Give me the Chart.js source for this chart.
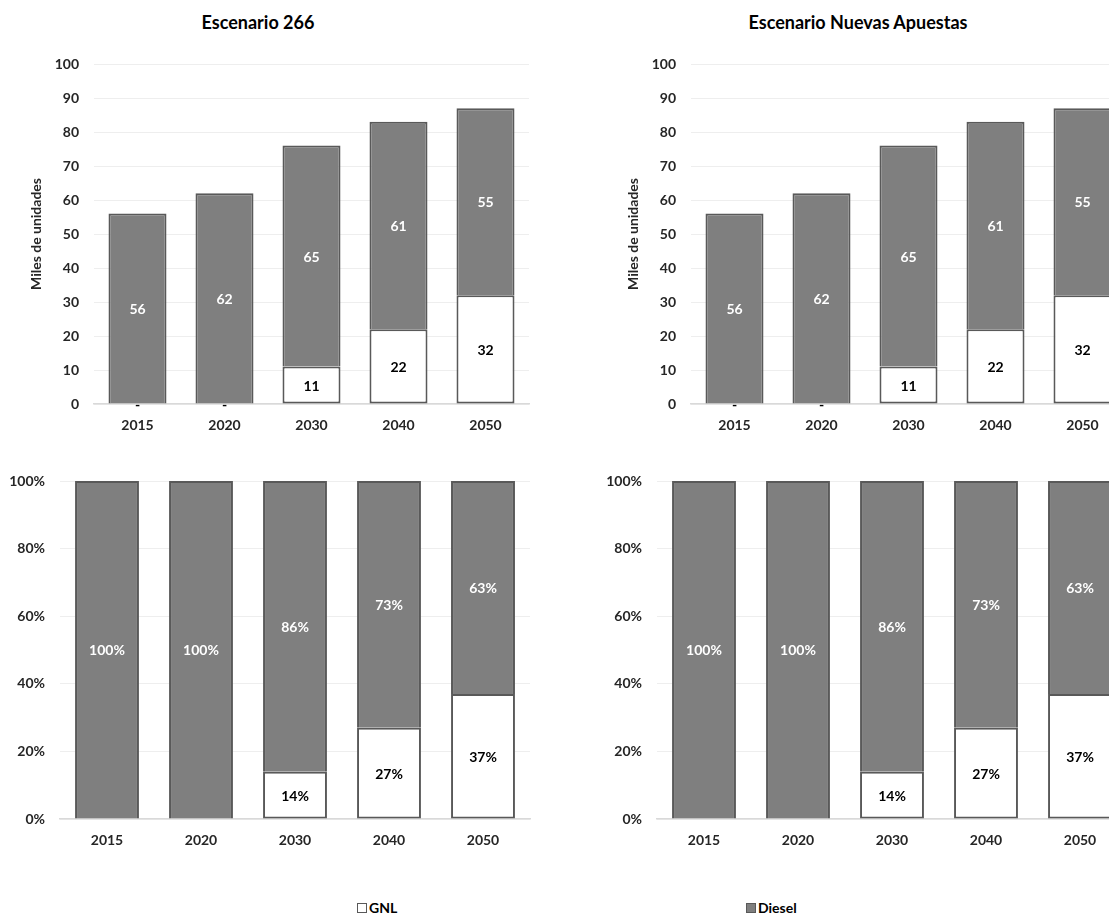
<!DOCTYPE html>
<html>
<head>
<meta charset="utf-8">
<title>Escenarios GNL / Diesel</title>
<script src="https://cdn.jsdelivr.net/npm/chart.js@4.4.1/dist/chart.umd.min.js"></script>
<style>
    html, body { margin: 0; padding: 0; background: #fff; }
    body { position: relative; width: 1109px; height: 917px; overflow: hidden; font-family: Lato, 'Open Sans', sans-serif; color: #000; }
    .panel { position: absolute; }
    .chart-title { position: absolute; top: 11px; width: 300px; text-align: center; font-weight: bold; font-size: 18px; }
    .legend-item { position: absolute; top: 899px; display: flex; align-items: center; font-weight: bold; font-size: 14px; }
    .swatch { width: 8px; height: 8px; border: 1.5px solid #595959; margin-right: 2px; }
</style>
</head>
<body>

<div class="chart-title" style="left:108px">Escenario 266</div>
<div class="chart-title" style="left:708px">Escenario Nuevas Apuestas</div>

<div class="panel" style="left:0;top:0"><canvas id="abs266" width="540" height="445"></canvas></div>
<div class="panel" style="left:597px;top:0"><canvas id="absNA" width="540" height="445"></canvas></div>
<div class="panel" style="left:0;top:445px"><canvas id="pct266" width="540" height="420"></canvas></div>
<div class="panel" style="left:597px;top:445px"><canvas id="pctNA" width="540" height="420"></canvas></div>

<div class="legend-item" style="left:357px"><span class="swatch" style="background:#fff"></span>GNL</div>
<div class="legend-item" style="left:746px"><span class="swatch" style="background:#7f7f7f"></span>Diesel</div>

<script>
// datos (miles de unidades)
const years = ['2015', '2020', '2030', '2040', '2050'];

const gnl266 = [0, 0, 11, 22, 32];
const diesel266 = [56, 62, 65, 61, 55];
const gnlNA = [0, 0, 11, 22, 32];
const dieselNA = [56, 62, 65, 61, 55];

// participación (%)
const gnlPct266 = [0, 0, 14, 27, 37];
const dieselPct266 = [100, 100, 86, 73, 63];
const gnlPctNA = [0, 0, 14, 27, 37];
const dieselPctNA = [100, 100, 86, 73, 63];

const unitTicks = [0, 10, 20, 30, 40, 50, 60, 70, 80, 90, 100];
const pctTicks = [0, 20, 40, 60, 80, 100];

const FONT = 'Lato, "Open Sans", sans-serif';
const GNL_COLOR = '#ffffff';
const DIESEL_COLOR = '#7f7f7f';
const EDGE_COLOR = '#595959';

// etiquetas de datos dentro de cada segmento
const barLabels = {
    id: 'barLabels',
    afterDatasetsDraw(chart, args, opts) {
        const ctx = chart.ctx;
        ctx.save();
        ctx.font = 'bold 14px ' + FONT;
        ctx.textAlign = 'center';
        ctx.textBaseline = 'middle';
        chart.data.datasets.forEach((ds, di) => {
            const meta = chart.getDatasetMeta(di);
            meta.data.forEach((bar, i) => {
                const v = ds.data[i];
                let txt;
                if (v === 0) {
                    if (!opts.zeroDash) return;
                    txt = '-';
                } else {
                    txt = v + opts.suffix;
                }
                ctx.fillStyle = ds.labelColor;
                ctx.fillText(txt, bar.x, (bar.y + bar.base) / 2 + 1);
            });
        });
        ctx.restore();
    }
};

function makeChart(id, gnl, diesel, cfg) {
    const ctx = document.getElementById(id).getContext('2d');
    return new Chart(ctx, {
        type: 'bar',
        data: {
            labels: years,
            datasets: [{
                label: 'GNL',
                data: gnl,
                backgroundColor: GNL_COLOR,
                borderColor: EDGE_COLOR,
                borderWidth: 2,
                borderSkipped: false,
                labelColor: '#000',
                categoryPercentage: 1,
                barPercentage: cfg.barPct
            }, {
                label: 'Diesel',
                data: diesel,
                backgroundColor: DIESEL_COLOR,
                borderColor: EDGE_COLOR,
                borderWidth: 2,
                borderSkipped: 'start', // el borde inferior lo pone el GNL
                labelColor: '#fff',
                categoryPercentage: 1,
                barPercentage: cfg.barPct
            }]
        },
        options: {
            responsive: false,
            animation: false,
            layout: { padding: { top: cfg.padTop, right: cfg.padRight, left: 0, bottom: 0 } },
            plugins: {
                legend: { display: false },
                tooltip: { enabled: false },
                barLabels: { suffix: cfg.suffix, zeroDash: cfg.zeroDash }
            },
            scales: {
                x: {
                    stacked: true,
                    grid: { display: false, drawTicks: false },
                    border: { color: '#d9d9d9', width: 1.5 },
                    ticks: { color: '#262626', font: { family: FONT, size: 14, weight: 'bold' }, padding: 13 },
                    afterFit: s => { s.height = cfg.xHeight; }
                },
                y: {
                    stacked: true,
                    min: 0,
                    max: 100,
                    afterBuildTicks: s => { s.ticks = cfg.ticks.map(v => ({ value: v })); },
                    grid: { color: '#eeeeee', lineWidth: 1, drawTicks: false },
                    border: { display: false },
                    ticks: {
                        color: '#262626',
                        font: { family: FONT, size: 14, weight: 'bold' },
                        padding: 15,
                        callback: v => v + cfg.suffix
                    },
                    title: cfg.yTitle ? {
                        display: true,
                        text: cfg.yTitle,
                        color: '#262626',
                        font: { family: FONT, size: 14, weight: 'bold' },
                        padding: { top: 28, bottom: 0 }
                    } : { display: false },
                    afterFit: s => { s.width = cfg.yWidth; }
                }
            }
        },
        plugins: [barLabels]
    });
}

const absCfg = { barPct: 0.667, padTop: 64, padRight: 11, xHeight: 41, yWidth: 94, ticks: unitTicks, suffix: '', zeroDash: true, yTitle: 'Miles de unidades' };
const pctCfg = { barPct: 0.68, padTop: 36, padRight: 10, xHeight: 46, yWidth: 60, ticks: pctTicks, suffix: '%', zeroDash: false, yTitle: null };

document.addEventListener('DOMContentLoaded', () => {
    makeChart('abs266', gnl266, diesel266, absCfg);
    makeChart('absNA', gnlNA, dieselNA, absCfg);
    makeChart('pct266', gnlPct266, dieselPct266, pctCfg);
    makeChart('pctNA', gnlPctNA, dieselPctNA, pctCfg);
});
</script>
</body>
</html>
